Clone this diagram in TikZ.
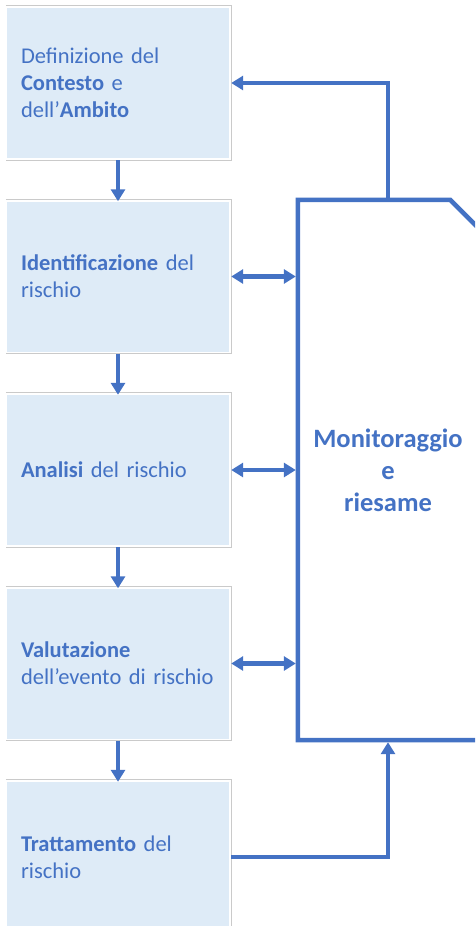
\documentclass[tikz,border=0pt]{standalone}
\usepackage{fontspec}
\setmainfont{Carlito}
\usetikzlibrary{positioning,arrows.meta}

\definecolor{accblue}{HTML}{4472C4}
\definecolor{boxfill}{HTML}{DEEBF7}
\definecolor{boxedge}{HTML}{CACACA}

\begin{document}
\begin{tikzpicture}[
      x=1pt, y=-1pt, >={Triangle[length=12pt,width=14pt]},
      stage/.style={fill=boxfill, minimum width=222pt, minimum height=150pt, text width=194pt, align=left, inner sep=0pt, text=accblue, font=\fontsize{22.5}{27}\selectfont},
      mbox/.style={minimum width=180pt, minimum height=540pt, inner sep=0pt, align=center, text=accblue, font=\bfseries\fontsize{26.5}{32}\selectfont},
      ar/.style={->, accblue, line width=4.5pt},
      arr/.style={<->, accblue, line width=4.5pt, shorten >=2pt},
      frm/.style={draw=boxedge, line width=0.8pt},
      outl/.style={draw=accblue, line width=4.5pt}
    ]
    \useasboundingbox (0,0) rectangle (475,926);
    \clip (0,0) rectangle (475,926);

    % ===== process steps (left column) =====
    \node[stage] (ctx) at (118,83)    {Definizione del\\\textbf{Contesto} e\\dell’\textbf{Ambito}};
    \node[stage] (idn) at (118,276.5) {\textbf{Identificazione} del\\rischio};
    \node[stage] (ana) at (118,470)   {\textbf{Analisi} del rischio};
    \node[stage] (val) at (118,663.5) {\textbf{Valutazione}\\dell’evento di rischio};
    \node[stage] (trt) at (118,857)   {\textbf{Trattamento} del\\rischio};
    \foreach \b in {ctx,idn,ana,val,trt}
      \draw[frm] ([xshift=-1pt,yshift=2pt]\b.north west) -- ([xshift=2pt,yshift=2pt]\b.north east)
        -- ([xshift=2pt,yshift=-2pt]\b.south east) -- ([xshift=-1pt,yshift=-2pt]\b.south west);

    % ===== monitoring block (right) =====
    \node[mbox] (mon) at (388,470) {Monitoraggio\\e\\riesame};
    \draw[outl] (mon.north west) -- ([xshift=-28pt]mon.north east) -- ([yshift=-28pt]mon.north east)
      -- (mon.south east) -- (mon.south west) -- cycle;

    % ===== flow =====
    \draw[ar] ([yshift=-2pt]ctx.south) -- (idn.north);
    \draw[ar] ([yshift=-2pt]idn.south) -- (ana.north);
    \draw[ar] ([yshift=-2pt]ana.south) -- (val.north);
    \draw[ar] ([yshift=-2pt]val.south) -- (trt.north);

    % feedback to / from monitoring
    \draw[ar] (mon.north) |- ([xshift=2pt]ctx.east);
    \draw[arr] ([xshift=2pt]idn.east) -- (mon.west |- idn.east);
    \draw[arr] ([xshift=2pt]ana.east) -- (mon.west |- ana.east);
    \draw[arr] ([xshift=2pt]val.east) -- (mon.west |- val.east);
    \draw[ar, shorten >=2pt] ([xshift=2pt]trt.east) -| (mon.south);
    \end{tikzpicture}
\end{document}
